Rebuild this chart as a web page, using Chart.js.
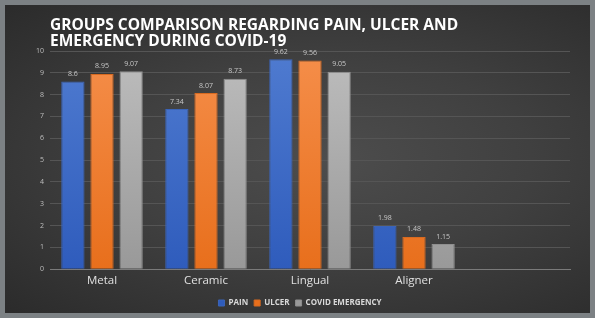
<!DOCTYPE html>
<html><head><meta charset="utf-8">
<script src="https://cdn.jsdelivr.net/npm/chart.js@4.4.0/dist/chart.umd.min.js"></script>
<style>
html,body{margin:0;padding:0;background:#7c8184;width:595px;height:318px;overflow:hidden;}
#panel{position:absolute;left:5px;top:5px;width:585px;height:308px;
background:radial-gradient(ellipse at 55% 50%, #4d4d4d 0%, #404040 45%, #2b2b2b 100%);}
#wrap{position:absolute;left:0;top:0;width:595px;height:318px;}
</style></head>
<body><div id="panel"></div><div id="wrap"><canvas id="c" width="595" height="318"></canvas></div>
<script>
const categories = ["Metal","Ceramic","Lingual","Aligner",""];
const pain = [8.6, 7.34, 9.62, 1.98, null];
const ulcer = [8.95, 8.07, 9.56, 1.48, null];
const covidEmergency = [9.07, 8.73, 9.05, 1.15, null];
const seriesNames = ["PAIN","ULCER","COVID EMERGENCY"];
const titleLines = ["GROUPS COMPARISON REGARDING PAIN, ULCER AND","EMERGENCY DURING COVID-19"];

function grad(top, bottom){
  return (ctx)=>{
    const ch = ctx.chart; const a = ch.chartArea;
    if(!a) return bottom;
    const g = ch.ctx.createLinearGradient(0,a.top,0,a.bottom);
    g.addColorStop(0,top); g.addColorStop(1,bottom); return g;
  };
}
const labelPlugin = {
  id:'vals',
  afterDatasetsDraw(chart){
    const ctx = chart.ctx;
    ctx.save();
    ctx.font = '7px "Open Sans"';
    ctx.fillStyle = '#c8c8c8';
    ctx.textAlign='center'; ctx.textBaseline='bottom';
    chart.data.datasets.forEach((ds,i)=>{
      chart.getDatasetMeta(i).data.forEach((el,j)=>{
        const v = ds.data[j]; if(v==null) return;
        ctx.fillText(String(v), el.x, el.y-4);
      });
    });
    ctx.restore();
  }
};
new Chart(document.getElementById('c'),{
  type:'bar',
  data:{labels:categories,datasets:[
    {label:seriesNames[0],data:pain,backgroundColor:grad('#4f7bd0','#2f5cbc'),borderColor:'#3b64b8',borderWidth:1},
    {label:seriesNames[1],data:ulcer,backgroundColor:grad('#f58e4a','#e86f1c'),borderColor:'#d86a20',borderWidth:1},
    {label:seriesNames[2],data:covidEmergency,backgroundColor:grad('#bdbdbd','#999999'),borderColor:'#8f8f8f',borderWidth:1}
  ]},
  options:{
    responsive:false,animation:false,
    categoryPercentage:0.84,barPercentage:0.8,
    layout:{padding:{left:30,right:25,top:12,bottom:1}},
    plugins:{
      title:{display:true,text:titleLines,align:'start',fullSize:false,color:'#ffffff',
        font:{family:'"Open Sans"',size:15.5,weight:'bold',lineHeight:1.0},padding:{top:6,bottom:2}},
      legend:{position:'bottom',labels:{color:'#d9d9d9',boxWidth:6,boxHeight:6,padding:6,
        font:{family:'"Open Sans"',size:8,weight:'bold'}}},
      tooltip:{enabled:false}
    },
    scales:{
      x:{grid:{display:false,drawTicks:false},border:{color:'#7a7a7a'},
        ticks:{color:'#e0e0e0',font:{family:'"Open Sans"',size:11.5},padding:5}},
      y:{min:0,max:10,ticks:{stepSize:1,color:'#bfbfbf',font:{family:'"Open Sans"',size:7},padding:6},
        grid:{color:'#555555',drawTicks:false},border:{display:false}}
    }
  },
  plugins:[labelPlugin]
});
</script></body></html>
